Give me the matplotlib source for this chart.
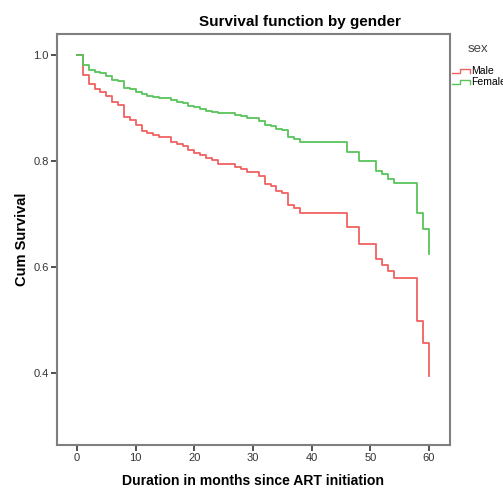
import matplotlib
matplotlib.use("Agg")
import matplotlib.pyplot as plt
from matplotlib.lines import Line2D
from matplotlib.legend_handler import HandlerBase

plt.rcParams['font.family'] = ['Liberation Sans', 'DejaVu Sans']

# Kaplan-Meier steps (time in months, survival after the event)
male_t = [0, 1, 2, 3, 4, 5, 6, 7, 8, 9, 10, 11, 12, 13, 14, 16, 17, 18, 19, 20,
          21, 22, 23, 24, 27, 28, 29, 31, 32, 33, 34, 35, 36, 37, 38, 46, 48,
          51, 52, 53, 54, 58, 59, 60]
male_s = [1.0, 0.962, 0.946, 0.936, 0.931, 0.923, 0.912, 0.906, 0.884, 0.877,
          0.869, 0.857, 0.854, 0.849, 0.845, 0.836, 0.832, 0.828, 0.821, 0.816,
          0.811, 0.806, 0.802, 0.794, 0.789, 0.786, 0.780, 0.773, 0.757, 0.753,
          0.744, 0.740, 0.717, 0.712, 0.703, 0.675, 0.644, 0.616, 0.605, 0.593,
          0.579, 0.499, 0.457, 0.394]

female_t = [0, 1, 2, 3, 4, 5, 6, 7, 8, 9, 10, 11, 12, 13, 14, 16, 17, 18, 19, 20,
            21, 22, 23, 24, 27, 28, 29, 31, 32, 33, 34, 35, 36, 37, 38, 46, 48,
            51, 52, 53, 54, 58, 59, 60]
female_s = [1.0, 0.981, 0.972, 0.968, 0.966, 0.961, 0.954, 0.952, 0.939, 0.936,
            0.931, 0.927, 0.923, 0.922, 0.919, 0.915, 0.912, 0.909, 0.905, 0.903,
            0.898, 0.895, 0.892, 0.890, 0.887, 0.885, 0.881, 0.876, 0.869, 0.866,
            0.860, 0.859, 0.845, 0.842, 0.836, 0.818, 0.800, 0.782, 0.775, 0.767,
            0.758, 0.703, 0.673, 0.624]

x_ticks = [0, 10, 20, 30, 40, 50, 60]
y_ticks = [0.4, 0.6, 0.8, 1.0]

red = '#f06262'
green = '#58c45a'
frame = '#7f7f7f'


class StepHandler(HandlerBase):
    # little step icon like the SPSS legend
    def create_artists(self, legend, orig, xd, yd, w, h, fontsize, trans):
        xs = [0, 0.45 * w, 0.45 * w, w, w]
        ys = [0.15 * h, 0.15 * h, 0.75 * h, 0.75 * h, 0.2 * h]
        ln = Line2D([x - xd for x in xs], [y - yd for y in ys],
                    color=orig.get_color(), lw=1.0, transform=trans)
        return [ln]


fig = plt.figure(figsize=(5.03, 4.88), dpi=100)
ax = fig.add_axes([57 / 503, 43 / 488, 393 / 503, 411 / 488])

l1, = ax.plot(male_t, male_s, drawstyle='steps-post', color=red, lw=1.3)
l2, = ax.plot(female_t, female_s, drawstyle='steps-post', color=green, lw=1.3)

ax.set_xlim(-3.41, 63.58)
ax.set_ylim(0.2645, 1.040)
ax.set_xticks(x_ticks)
ax.set_xticklabels([str(v) for v in x_ticks])
ax.set_yticks(y_ticks)
ax.set_yticklabels(['%.1f' % v for v in y_ticks])

for sp in ax.spines.values():
    sp.set_color(frame)
    sp.set_linewidth(1.5)
ax.tick_params(axis='both', direction='out', length=4, width=1.2, color='#333333',
               labelsize=8, labelcolor='#333333', pad=2)

ax.set_xlabel('Duration in months since ART initiation', fontsize=10.1,
              fontweight='bold', labelpad=7.5)
ax.set_ylabel('Cum Survival', fontsize=10.5, fontweight='bold', labelpad=3)

fig.text(300 / 503, 466 / 488, 'Survival function by gender', ha='center',
         va='center', fontsize=11, fontweight='bold')

fig.text(478 / 503, (488 - 49) / 488, 'sex', ha='center', va='center',
         fontsize=9.5, color='#444444')
leg = fig.legend([l1, l2], ['Male', 'Female'], loc='upper left',
                 bbox_to_anchor=(452 / 503, (488 - 66) / 488), frameon=False,
                 fontsize=7.5, handler_map={Line2D: StepHandler()},
                 handlelength=1.75, handletextpad=0.05, labelspacing=0.1,
                 borderpad=0, borderaxespad=0)

fig.savefig('out.png', dpi=100)
